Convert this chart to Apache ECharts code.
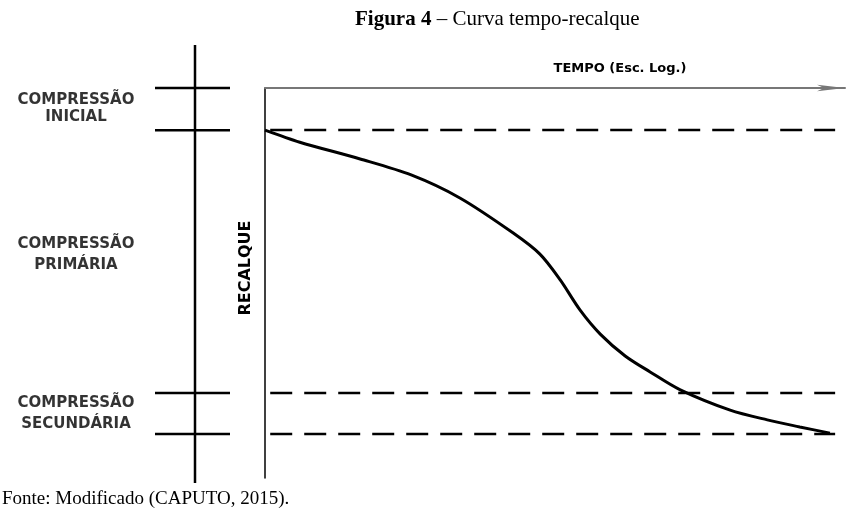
<!DOCTYPE html>
<html style="height: 100%">
<head>
<meta charset="utf-8">
<script src="https://cdn.jsdelivr.net/npm/echarts@6/dist/echarts.min.js"></script>
</head>
<body style="height: 100%; margin: 0; background: #fff">
<div id="container" style="width: 857px; height: 511px"></div>
<script>
// tempo em escala log (unidades relativas 0-100), recalque relativo 0-100 (cresce para baixo)
var tempo    = [0, 6.0, 16.4, 25.2, 33.6, 42.8, 47.4, 50.9, 54.3, 57.8, 62.1, 66.4, 71.6, 80.2, 86.6, 92.2, 97.4];
var recalque = [10.8, 13.9, 18.2, 22.3, 28.2, 37.2, 42.6, 49.2, 56.9, 63.1, 68.7, 72.8, 77.4, 82.6, 85.1, 86.9, 88.5];

// limites entre as fases (mesma escala do recalque)
var niveis = [0, 10.8, 78.2, 88.7];
var fases = [
    ['COMPRESSÃO', 'INICIAL'],
    ['COMPRESSÃO', 'PRIMÁRIA'],
    ['COMPRESSÃO', 'SECUNDÁRIA']
];

var dom = document.getElementById('container');
var myChart = echarts.init(dom);

var labelFont = { fontFamily: 'DejaVu Sans', fontWeight: 'bold', fontSize: 15, color: '#000' };

var series = [];

// curva tempo-recalque
series.push({
    type: 'line',
    xAxisIndex: 0, yAxisIndex: 0,
    data: tempo.map(function (t, i) { return [t, recalque[i]]; }),
    smooth: 0.3,
    showSymbol: false,
    lineStyle: { color: '#000', width: 3 }
});

// linhas tracejadas nos limites das fases
niveis.slice(1).forEach(function (v) {
    series.push({
        type: 'line',
        xAxisIndex: 0, yAxisIndex: 0,
        data: [[0.9, v], [98.3, v]],
        showSymbol: false,
        lineStyle: { color: '#000', width: 2.5, type: [22, 12] }
    });
});

// escala das fases à esquerda
series.push({
    type: 'line',
    xAxisIndex: 1, yAxisIndex: 1,
    data: [[195, -11], [195, 101.3]],
    showSymbol: false,
    lineStyle: { color: '#000', width: 2.5 }
});
niveis.forEach(function (v) {
    series.push({
        type: 'line',
        xAxisIndex: 1, yAxisIndex: 1,
        data: [[155, v], [230, v]],
        showSymbol: false,
        lineStyle: { color: '#000', width: 2.5 }
    });
});
series.push({
    type: 'scatter',
    xAxisIndex: 1, yAxisIndex: 1,
    symbolSize: 0,
    data: fases.map(function (f, i) {
        return {
            value: [76, (niveis[i] + niveis[i + 1]) / 2],
            name: f.join('\n'),
            label: { offset: [0, i === 1 ? -7 : 0], lineHeight: i === 0 ? 17 : 21 }
        };
    }),
    label: Object.assign({
        show: true,
        position: 'inside',
        formatter: function (p) { return p.name; }
    }, labelFont)
});

var option = {
    animation: false,
    backgroundColor: '#fff',
    title: [{
        text: '{b|Figura 4} – Curva tempo-recalque',
        left: 350,
        top: 4,
        textStyle: {
            fontFamily: 'Liberation Serif', fontSize: 21, fontWeight: 'normal', color: '#000',
            rich: { b: { fontFamily: 'Liberation Serif', fontSize: 21, fontWeight: 'bold', color: '#000' } }
        }
    }, {
        text: 'Fonte: Modificado (CAPUTO, 2015).',
        left: -3,
        top: 485,
        textStyle: { fontFamily: 'Liberation Serif', fontSize: 19, fontWeight: 'normal', color: '#000' }
    }],
    grid: [
        { left: 265, top: 88, width: 580, height: 390 },
        { left: 0, top: 45.1, width: 230, height: 438 }
    ],
    xAxis: [{
        gridIndex: 0,
        type: 'value', min: 0, max: 100,
        position: 'top',
        name: 'TEMPO (Esc. Log.)',
        nameLocation: 'middle',
        nameGap: 13,
        nameTextStyle: Object.assign({ padding: [0, 0, 0, 130] }, labelFont, { fontSize: 13 }),
        axisLine: { show: true, onZero: false, lineStyle: { color: '#777', width: 2 },
                    symbol: ['none', 'arrow'], symbolSize: [5, 28] },
        axisTick: { show: false }, axisLabel: { show: false }, splitLine: { show: false }
    }, {
        gridIndex: 1,
        type: 'value', min: 0, max: 230,
        show: false
    }],
    yAxis: [{
        gridIndex: 0,
        type: 'value', min: 0, max: 100, inverse: true,
        name: 'RECALQUE',
        nameLocation: 'middle',
        nameGap: 11,
        nameRotate: 90,
        nameTextStyle: Object.assign({ padding: [0, 0, 0, 30] }, labelFont, { fontSize: 16 }),
        axisLine: { show: true, onZero: false, lineStyle: { color: '#000', width: 1.5 } },
        axisTick: { show: false }, axisLabel: { show: false }, splitLine: { show: false }
    }, {
        gridIndex: 1,
        type: 'value', min: -11, max: 101.3, inverse: true,
        show: false
    }],
    series: series
};

if (option && typeof option === 'object') {
    myChart.setOption(option);
}
</script>
</body>
</html>
